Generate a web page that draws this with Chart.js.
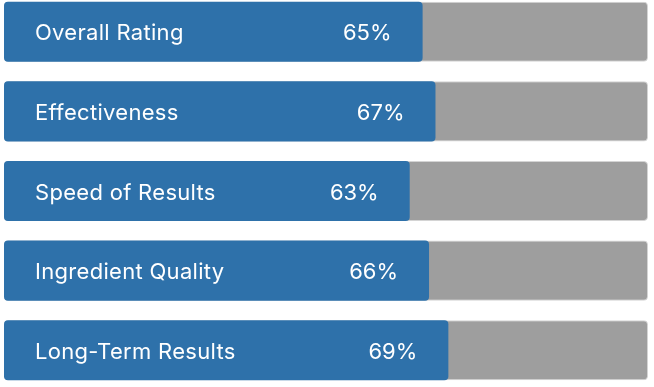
<!DOCTYPE html>
<html>
<head>
<meta charset="utf-8">
<script src="https://cdn.jsdelivr.net/npm/chart.js@4"></script>
<style>
  html, body { margin: 0; padding: 0; background: #fff; overflow: hidden; }
  #wrap { position: absolute; left: 0; top: -8px; width: 654px; height: 398px; }
</style>
</head>
<body>
<div id="wrap"><canvas id="ratingChart"></canvas></div>
<script>
// 数据
const categories = ['Overall Rating', 'Effectiveness', 'Speed of Results', 'Ingredient Quality', 'Long-Term Results'];
const scores = [65, 67, 63, 66, 69];
const fullScale = [100, 100, 100, 100, 100];

// 在条形上绘制文字
const barLabels = {
    id: 'barLabels',
    afterDatasetsDraw(chart) {
        const ctx = chart.ctx;
        const meta = chart.getDatasetMeta(1);
        ctx.save();
        ctx.fillStyle = '#ffffff';
        ctx.font = '22px Inter, "Noto Sans", sans-serif';
        ctx.textBaseline = 'middle';
        meta.data.forEach(function(bar, i) {
            ctx.letterSpacing = '0.3px';
            ctx.textAlign = 'left';
            ctx.fillText(categories[i], 35, bar.y + 2);
            ctx.letterSpacing = '0px';
            ctx.textAlign = 'right';
            ctx.fillText(scores[i] + '%', bar.x - 31, bar.y + 2);
        });
        ctx.restore();
    }
};

const ctx = document.getElementById('ratingChart');
new Chart(ctx.getContext('2d'), {
    type: 'bar',
    data: {
        labels: categories,
        datasets: [
            {
                data: fullScale,
                backgroundColor: '#9e9e9e',
                borderColor: '#d4d4d4',
                borderWidth: 1,
                borderRadius: 4,
                borderSkipped: false,
                grouped: false,
                order: 2
            },
            {
                data: scores,
                backgroundColor: '#2e71aa',
                borderWidth: 0,
                borderRadius: 4,
                borderSkipped: false,
                grouped: false,
                order: 1
            }
        ]
    },
    options: {
        indexAxis: 'y',
        responsive: true,
        maintainAspectRatio: false,
        animation: false,
        layout: { padding: { left: 4, right: 6, top: 0, bottom: 0 } },
        datasets: {
            bar: { categoryPercentage: 0.755, barPercentage: 1 }
        },
        plugins: {
            legend: { display: false },
            tooltip: { enabled: false }
        },
        scales: {
            x: { display: false, min: 0, max: 100 },
            y: { display: false }
        }
    },
    plugins: [barLabels]
});
</script>
</body>
</html>
